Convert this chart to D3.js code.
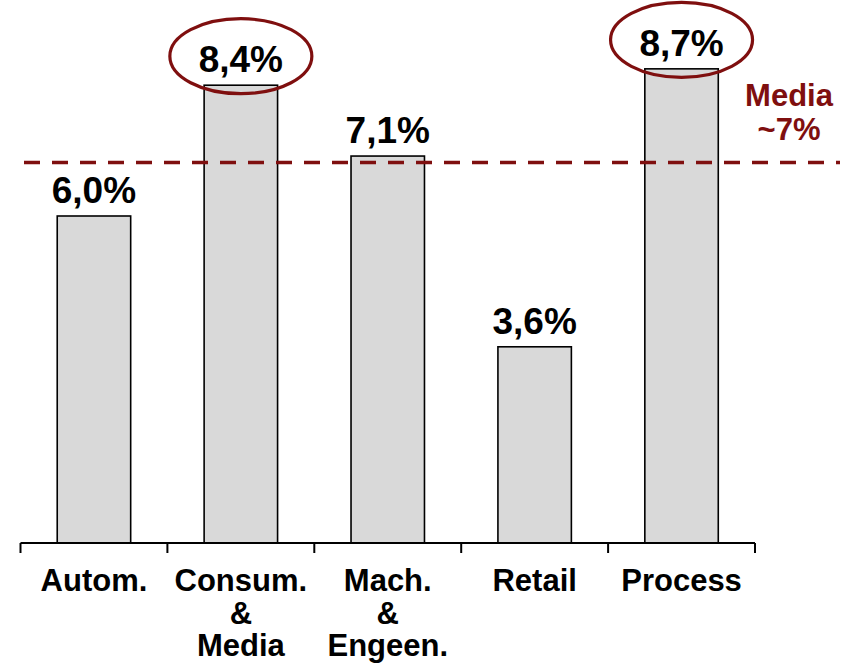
<!DOCTYPE html>
<html>
<head>
<meta charset="utf-8">
<script src="https://cdn.jsdelivr.net/npm/d3@7"></script>
<style>
  html, body { margin: 0; padding: 0; background: #fff; }
  svg { display: block; font-family: "Liberation Sans", Arial, sans-serif; }
</style>
</head>
<body>
<svg id="chart" width="848" height="667"></svg>
<script>
const categories = ["Autom.", "Consum.|&|Media", "Mach.|&|Engeen.", "Retail", "Process"];
const values = [6.0, 8.4, 7.1, 3.6, 8.7];
const valueLabels = ["6,0%", "8,4%", "7,1%", "3,6%", "8,7%"];
const highlighted = ["Consum.|&|Media", "Process"];
const averageValue = 7.0;
const averageLabel = ["Media", "~7%"];

const svg = d3.select("#chart");
const darkRed = "#7f0f0f";

const x = d3.scaleBand().domain(categories).range([20.5, 755]).paddingInner(0.5).paddingOuter(0.25);
const y = d3.scaleLinear().domain([0, 10]).range([543, -2]);

// bars
svg.selectAll("rect.bar").data(categories).enter().append("rect")
  .attr("class", "bar")
  .attr("x", d => x(d))
  .attr("y", (d, i) => y(values[i]))
  .attr("width", x.bandwidth())
  .attr("height", (d, i) => y(0) - y(values[i]))
  .attr("fill", "#d9d9d9")
  .attr("stroke", "#000")
  .attr("stroke-width", 1.6);

// average dashed line
svg.append("line")
  .attr("x1", 24).attr("x2", 840)
  .attr("y1", y(averageValue) + 1).attr("y2", y(averageValue) + 1)
  .attr("stroke", darkRed).attr("stroke-width", 3.5)
  .attr("stroke-dasharray", "16 12");

// axis
const r = x.range();
const step = x.step();
const boundaries = d3.range(categories.length + 1).map(i => r[0] + i * step);
svg.append("line").attr("x1", r[0]).attr("x2", r[1]).attr("y1", y(0)).attr("y2", y(0))
  .attr("stroke", "#000").attr("stroke-width", 2);
svg.selectAll("line.tick").data(boundaries).enter().append("line")
  .attr("class", "tick")
  .attr("x1", d => d).attr("x2", d => d)
  .attr("y1", y(0)).attr("y2", y(0) + 10)
  .attr("stroke", "#000").attr("stroke-width", 2);

// category labels
const catG = svg.selectAll("text.cat").data(categories).enter().append("text")
  .attr("class", "cat")
  .attr("x", d => x(d) + x.bandwidth() / 2)
  .attr("y", 591)
  .attr("text-anchor", "middle")
  .attr("font-size", 31).attr("font-weight", "bold").attr("fill", "#000");
catG.selectAll("tspan").data(d => d.split("|").map(t => ({t, c: d}))).enter().append("tspan")
  .attr("x", d => x(d.c) + x.bandwidth() / 2)
  .attr("dy", (d, i) => i === 0 ? 0 : 32.5)
  .text(d => d.t);

// value labels
svg.selectAll("text.val").data(categories).enter().append("text")
  .attr("class", "val")
  .attr("x", d => x(d) + x.bandwidth() / 2)
  .attr("y", (d, i) => y(values[i]) - 13)
  .attr("text-anchor", "middle")
  .attr("font-size", 37).attr("font-weight", "bold").attr("fill", "#000")
  .text((d, i) => valueLabels[i]);

// highlight ellipses
svg.selectAll("ellipse.hl").data(highlighted).enter().append("ellipse")
  .attr("class", "hl")
  .attr("cx", d => x(d) + x.bandwidth() / 2)
  .attr("cy", d => y(values[categories.indexOf(d)]) - 29)
  .attr("rx", 71).attr("ry", 37.5)
  .attr("fill", "none")
  .attr("stroke", darkRed).attr("stroke-width", 3.2);

// average label
svg.append("text")
  .attr("x", 789).attr("y", 106)
  .attr("text-anchor", "middle")
  .attr("font-size", 31).attr("font-weight", "bold").attr("fill", darkRed)
  .selectAll("tspan").data(averageLabel).enter().append("tspan")
  .attr("x", 789).attr("dy", (d, i) => i === 0 ? 0 : 34)
  .text(d => d);
</script>
</body>
</html>
